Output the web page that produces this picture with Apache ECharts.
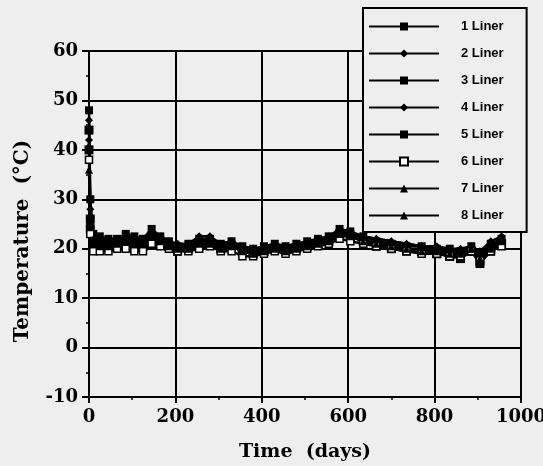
<!DOCTYPE html>
<html><head><meta charset="utf-8">
<script src="https://cdn.jsdelivr.net/npm/echarts@6/dist/echarts.min.js"></script>
<style>html,body{margin:0;padding:0;background:#eeeeee}#c{width:543px;height:466px}</style>
</head><body><div id="c"></div>
<script>
const days = [0, 3, 10, 25, 45, 65, 85, 105, 125, 145, 165, 185, 205, 230, 255, 280, 305, 330, 355, 380, 405, 430, 455, 480, 505, 530, 555, 580, 605, 635, 665, 700, 735, 770, 805, 835, 860, 885, 905, 930, 955];
const liner1 = [48, 30, 23, 22.5, 22, 22, 23, 22.5, 22, 24, 22.5, 21.5, 20.5, 21, 22, 22, 21, 21.5, 20.5, 20, 20.5, 21, 20.5, 21, 21.5, 22, 22.5, 24, 23.5, 22.5, 21.5, 21, 20.5, 20.5, 20, 20, 19.5, 20.5, 19, 21, 22];
const liner2 = [46, 28, 22, 21.5, 21, 21, 22, 21.5, 21.5, 23.5, 22, 21, 20.5, 20.5, 21.5, 22, 20.5, 21, 20, 19.5, 20, 20.5, 20, 20.5, 21, 21.5, 22, 23.5, 23, 22, 21, 20.5, 20, 20, 19.5, 19.5, 19, 20, 18.5, 20.5, 21.5];
const liner3 = [44, 26, 21, 21, 20.5, 20.5, 21.5, 21, 21, 22.5, 21.5, 20.5, 20, 20, 21, 21, 20, 20.5, 19.5, 19, 19.5, 20, 19.5, 20, 20.5, 21, 21.5, 23, 22.5, 21.5, 20.5, 20, 19.5, 19.5, 19, 18.5, 18.5, 19.5, 17.5, 20, 21];
const liner4 = [42, 25, 22.5, 22, 21.5, 21.5, 22.5, 22, 22, 23, 22, 21.5, 21, 21, 22.5, 22.5, 21, 21.5, 20.5, 20, 20, 21, 20.5, 21, 21, 22, 22.5, 23.5, 23, 22.5, 22, 21.5, 21, 20.5, 20.5, 20, 20, 20.5, 19.5, 21.5, 22.5];
const liner5 = [40, 24, 21.5, 21, 20.5, 20.5, 21, 21, 20.5, 22, 21, 20.5, 19.5, 20, 20.5, 21, 20, 20.5, 19.5, 19, 19.5, 20, 19.5, 20, 20.5, 21, 21.5, 22.5, 22.5, 21.5, 21, 20.5, 20, 19.5, 19, 18.5, 18, 19.5, 17, 19.5, 21];
const liner6 = [38, 23, 19.5, 19.5, 19.5, 20, 20, 19.5, 19.5, 21, 20.5, 20, 19.5, 19.5, 20, 20.5, 19.5, 19.5, 18.5, 18.5, 19, 19.5, 19, 19.5, 20, 20.5, 21, 22, 21.5, 21, 20.5, 20, 19.5, 19, 19, 18.5, 18.5, 19.5, 18, 19.5, 20.5];
const liner7 = [41, 27, 22, 21.5, 21, 21.5, 22, 22, 21.5, 23.5, 22.5, 21, 20.5, 20.5, 21.5, 21.5, 20.5, 21, 20, 19.5, 20, 20.5, 20, 20.5, 21, 21.5, 22, 23, 23, 22.5, 22, 21.5, 21, 20.5, 20, 20, 19.5, 20, 19, 20.5, 22];
const liner8 = [36, 25, 21, 20.5, 20.5, 21, 21.5, 21, 21, 22.5, 21.5, 20.5, 20, 20, 21, 21, 20, 20.5, 19.5, 19, 19.5, 20, 19.5, 20, 20.5, 21, 21.5, 23, 22.5, 21.5, 21, 20.5, 20, 19.5, 19.5, 19, 19, 20, 18, 20, 21.5];
const seriesNames = ['1 Liner', '2 Liner', '3 Liner', '4 Liner', '5 Liner', '6 Liner', '7 Liner', '8 Liner'];
const seriesValues = [liner1, liner2, liner3, liner4, liner5, liner6, liner7, liner8];
const xTicks = [0, 200, 400, 600, 800, 1000];
const yTicks = [-10, 0, 10, 20, 30, 40, 50, 60];

const symbols = ['rect', 'diamond', 'rect', 'diamond', 'rect', 'rect', 'triangle', 'triangle'];
const sizes = [8, 8, 9, 8, 9, 7, 8, 8];
const fills = ['#000', '#000', '#000', '#000', '#000', '#fff', '#000', '#000'];

const chart = echarts.init(document.getElementById('c'), null, {renderer: 'canvas'});
const serif = '"DejaVu Serif", "Liberation Serif", serif';
chart.setOption({
  backgroundColor: '#eeeeee',
  animation: false,
  grid: {left: 89, right: 22, top: 51, bottom: 69, outerBoundsMode: 'none', containLabel: false},
  legend: {
    data: seriesNames,
    orient: 'vertical',
    left: 363, top: 8,
    itemWidth: 70, itemHeight: 10, itemGap: 14,
    padding: [12, 23, 10, 5],
    backgroundColor: '#eeeeee',
    borderColor: '#000', borderWidth: 2,
    textStyle: {fontFamily: '"Liberation Sans", Arial, sans-serif', fontWeight: 'bold', fontSize: 13, color: '#000', padding: [0, 0, 0, 17]}
  },
  xAxis: {
    type: 'value', min: 0, max: 1000, interval: 200,
    name: 'Time  (days)', nameLocation: 'middle', nameGap: 46,
    nameTextStyle: {fontFamily: serif, fontWeight: 'bold', fontSize: 19, color: '#000'},
    axisLine: {show: true, onZero: false, lineStyle: {color: '#000', width: 2}},
    axisTick: {show: true, length: 6, lineStyle: {color: '#000', width: 2}},
    minorTick: {show: true, splitNumber: 2, length: 3, lineStyle: {color: '#000', width: 1.5}},
    axisLabel: {margin: 11, fontFamily: serif, fontWeight: 'bold', fontSize: 18, color: '#000',
      formatter: v => xTicks.includes(v) ? String(v) : ''},
    splitLine: {show: true, lineStyle: {color: '#000', width: 2}}
  },
  yAxis: {
    type: 'value', min: -10, max: 60, interval: 10,
    name: 'Temperature  (°C)', nameLocation: 'middle', nameGap: 56, nameRotate: 90,
    nameTextStyle: {fontFamily: serif, fontWeight: 'bold', fontSize: 20, color: '#000', padding: [0, 34, 0, 0]},
    axisLine: {show: true, onZero: false, lineStyle: {color: '#000', width: 2}},
    axisTick: {show: true, length: 7, lineStyle: {color: '#000', width: 2}},
    minorTick: {show: true, splitNumber: 2, length: 3, lineStyle: {color: '#000', width: 1.5}},
    axisLabel: {margin: 11, fontFamily: serif, fontWeight: 'bold', fontSize: 18, color: '#000',
      formatter: v => yTicks.includes(v) ? String(v) : ''},
    splitLine: {show: true, lineStyle: {color: '#000', width: 2}}
  },
  series: seriesNames.map((n, i) => ({
    name: n, type: 'line',
    data: days.map((d, k) => [d, seriesValues[i][k]]),
    symbol: symbols[i], symbolSize: sizes[i], showAllSymbol: true,
    lineStyle: {color: '#000', width: 2.5},
    itemStyle: {color: fills[i], borderColor: '#000', borderWidth: i === 5 ? 1.5 : 0}
  }))
});
</script></body></html>
